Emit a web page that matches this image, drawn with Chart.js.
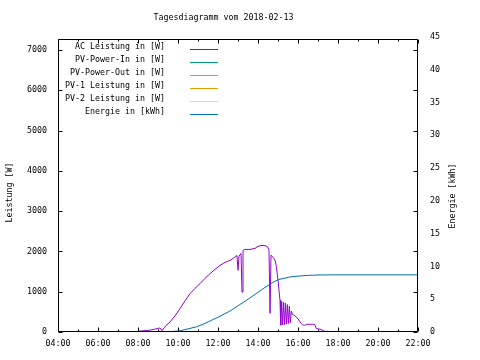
<!DOCTYPE html>
<html>
<head>
<meta charset="utf-8">
<script src="https://cdn.jsdelivr.net/npm/chart.js@4/dist/chart.umd.min.js"></script>
<style>
  html, body { margin: 0; padding: 0; background: #fff; }
  #chart { display: block; }
</style>
</head>
<body>
<canvas id="chart" width="480" height="360"></canvas>
<script>
// Tagesdiagramm - Werte

const chartTitle = 'Tagesdiagramm vom 2018-02-13';

const seriesLabels = ['AC Leistung in [W]', 'PV-Power-In in [W]', 'PV-Power-Out in [W]',
                      'PV-1 Leistung in [W]', 'PV-2 Leistung in [W]', 'Energie in [kWh]'];
const seriesColors = ['#9400d3', '#009e73', '#56b4e9', '#e69f00', '#f0e442', '#0072b2'];

// AC Leistung in W
const acTimes = ['08:00','08:15','08:30','08:45','09:00','09:06','09:12','09:18','09:24','09:36',
                 '09:51','10:06','10:21','10:36','10:51','11:06','11:21','11:36','11:51','12:06',
                 '12:21','12:36','12:51','12:57','13:00','13:03','13:06','13:09','13:12','13:15',
                 '13:21','13:36','13:51','14:00','14:12','14:24','14:30','14:33','14:36','14:39',
                 '14:45','14:51','14:55','15:00','15:03','15:06','15:08','15:10','15:13','15:16',
                 '15:19','15:22','15:25','15:28','15:31','15:34','15:37','15:40','15:44','15:50',
                 '15:55','16:00','16:05','16:10','16:14','16:20','16:26','16:35','16:44','16:50',
                 '16:55','17:02','17:10','17:20','17:29','17:40'];
const acWatt = [20, 30, 40, 60, 90, 100, 30, 100, 160, 250,
                400, 580, 773, 952, 1083, 1200, 1331, 1448, 1554, 1653,
                1728, 1777, 1859, 1900, 1530, 1877, 1926, 1950, 992, 2025,
                2050, 2050, 2075, 2125, 2150, 2137, 2100, 2025, 464, 1909,
                1852, 1785, 1629, 1282, 1034, 786, 170, 760, 175, 740,
                180, 720, 200, 680, 210, 640, 230, 520, 430, 414,
                364, 332, 265, 208, 178, 166, 191, 191, 191, 191,
                84, 79, 60, 17, 17, 5];

// Energie in kWh
const energyTimes = ['09:12','09:36','10:06','10:36','10:56','11:16','11:36','12:06','12:36','13:06',
                     '13:36','14:00','14:21','14:36','14:51','15:06','15:36','16:06','16:36','17:06',
                     '17:51','22:00'];
const energyKwh = [0, 0.05, 0.18, 0.55, 0.8, 1.2, 1.68, 2.4, 3.2, 4.2,
                   5.2, 6.05, 6.8, 7.3, 7.75, 8.05, 8.4, 8.55, 8.65, 8.7,
                   8.72, 8.72];

const hourTicks = [4, 6, 8, 10, 12, 14, 16, 18, 20, 22];
const wattTicks = [0, 1000, 2000, 3000, 4000, 5000, 6000, 7000];
const kwhTicks = [0, 5, 10, 15, 20, 25, 30, 35, 40, 45];

const FONT = '"DejaVu Sans Mono", "Liberation Mono", monospace';
const FONT_SIZE = 8.3;

function toHours(t) {
    const [h, m] = t.split(':').map(Number);
    return h + m / 60;
}

function toPoints(times, values) {
    return times.map((t, i) => ({ x: toHours(t), y: values[i] }));
}

function hourLabel(v) {
    return String(v).padStart(2, '0') + ':00';
}

// Rahmen, Ticks, Titel, Achsentitel und Legende im gnuplot-Stil
const gnuplotDeko = {
    id: 'gnuplotDeko',
    afterDraw(chart) {
        const ctx = chart.ctx;
        const a = chart.chartArea;
        const xs = chart.scales.x;
        const ys = chart.scales.y;
        const left = Math.round(a.left) + 0.5;
        const right = Math.round(a.right) - 0.5;
        const bottom = Math.round(a.bottom) - 0.5;
        const top = 39.5;

        ctx.save();
        ctx.strokeStyle = '#000';
        ctx.lineWidth = 1;
        ctx.beginPath();
        ctx.rect(left, top, right - left, bottom - top);

        // x ticks innen, unten und oben
        for (let h = 4; h <= 22; h++) {
            const px = Math.round(xs.getPixelForValue(h)) + 0.5;
            const len = h % 2 === 0 ? 4 : 2;
            ctx.moveTo(px, bottom); ctx.lineTo(px, bottom - len);
            ctx.moveTo(px, top); ctx.lineTo(px, top + len);
        }
        // y ticks innen, links und gespiegelt rechts
        wattTicks.forEach(w => {
            const py = Math.round(ys.getPixelForValue(w)) + 0.5;
            ctx.moveTo(left, py); ctx.lineTo(left + 4, py);
            ctx.moveTo(right, py); ctx.lineTo(right - 4, py);
        });
        ctx.stroke();

        ctx.fillStyle = '#000';
        ctx.font = FONT_SIZE + 'px ' + FONT;
        ctx.textBaseline = 'middle';
        ctx.textAlign = 'center';
        ctx.fillText(chartTitle, 223.5, 18);

        ctx.save();
        ctx.translate(10, 192.5);
        ctx.rotate(-Math.PI / 2);
        ctx.fillText('Leistung [W]', 0, 0);
        ctx.restore();

        ctx.save();
        ctx.translate(452.5, 196);
        ctx.rotate(-Math.PI / 2);
        ctx.fillText('Energie [kWh]', 0, 0);
        ctx.restore();

        // Legende
        ctx.textAlign = 'right';
        seriesLabels.forEach((label, i) => {
            const y = 47 + 13 * i;
            ctx.fillStyle = '#000';
            ctx.fillText(label, 165, y);
            ctx.strokeStyle = seriesColors[i];
            ctx.beginPath();
            ctx.moveTo(190, y + 2.5);
            ctx.lineTo(218, y + 2.5);
            ctx.stroke();
        });
        ctx.restore();
    }
};

function makeDataset(i, points, axis) {
    return {
        label: seriesLabels[i],
        data: points,
        borderColor: seriesColors[i],
        backgroundColor: seriesColors[i],
        borderWidth: 1,
        pointRadius: 0,
        tension: 0,
        fill: false,
        yAxisID: axis
    };
}

const datasets = [
    makeDataset(0, toPoints(acTimes, acWatt), 'y'),
    makeDataset(1, [], 'y'),
    makeDataset(2, [], 'y'),
    makeDataset(3, [], 'y'),
    makeDataset(4, [], 'y'),
    Object.assign(makeDataset(5, toPoints(energyTimes, energyKwh), 'y2'), { order: -1 })
];

const tickFont = { family: FONT, size: FONT_SIZE };

new Chart(document.getElementById('chart').getContext('2d'), {
    type: 'line',
    data: { datasets: datasets },
    options: {
        responsive: false,
        animation: false,
        events: [],
        layout: { padding: { top: 37, left: 0, right: 0, bottom: 0 } },
        plugins: {
            legend: { display: false },
            title: { display: false },
            tooltip: { enabled: false }
        },
        scales: {
            x: {
                type: 'linear',
                min: 4,
                max: 22,
                afterBuildTicks: s => { s.ticks = hourTicks.map(v => ({ value: v })); },
                afterFit: s => { s.height = 28; },
                grid: { display: false, drawTicks: false },
                border: { display: false },
                ticks: {
                    callback: hourLabel,
                    autoSkip: false,
                    maxRotation: 0,
                    padding: 7,
                    color: '#000',
                    font: tickFont
                }
            },
            y: {
                position: 'left',
                min: 0,
                max: 7322,
                afterBuildTicks: s => { s.ticks = wattTicks.map(v => ({ value: v })); },
                afterFit: s => { s.width = 58; },
                grid: { display: false, drawTicks: false },
                border: { display: false },
                ticks: {
                    callback: v => String(v),
                    autoSkip: false,
                    padding: 11,
                    color: '#000',
                    font: tickFont
                }
            },
            y2: {
                position: 'right',
                min: 0,
                max: 45,
                afterBuildTicks: s => { s.ticks = kwhTicks.map(v => ({ value: v })); },
                afterFit: s => { s.width = 62; },
                grid: { display: false, drawTicks: false },
                border: { display: false },
                ticks: {
                    callback: v => String(v),
                    autoSkip: false,
                    padding: 12,
                    color: '#000',
                    font: tickFont
                }
            }
        }
    },
    plugins: [gnuplotDeko]
});
</script>
</body>
</html>
